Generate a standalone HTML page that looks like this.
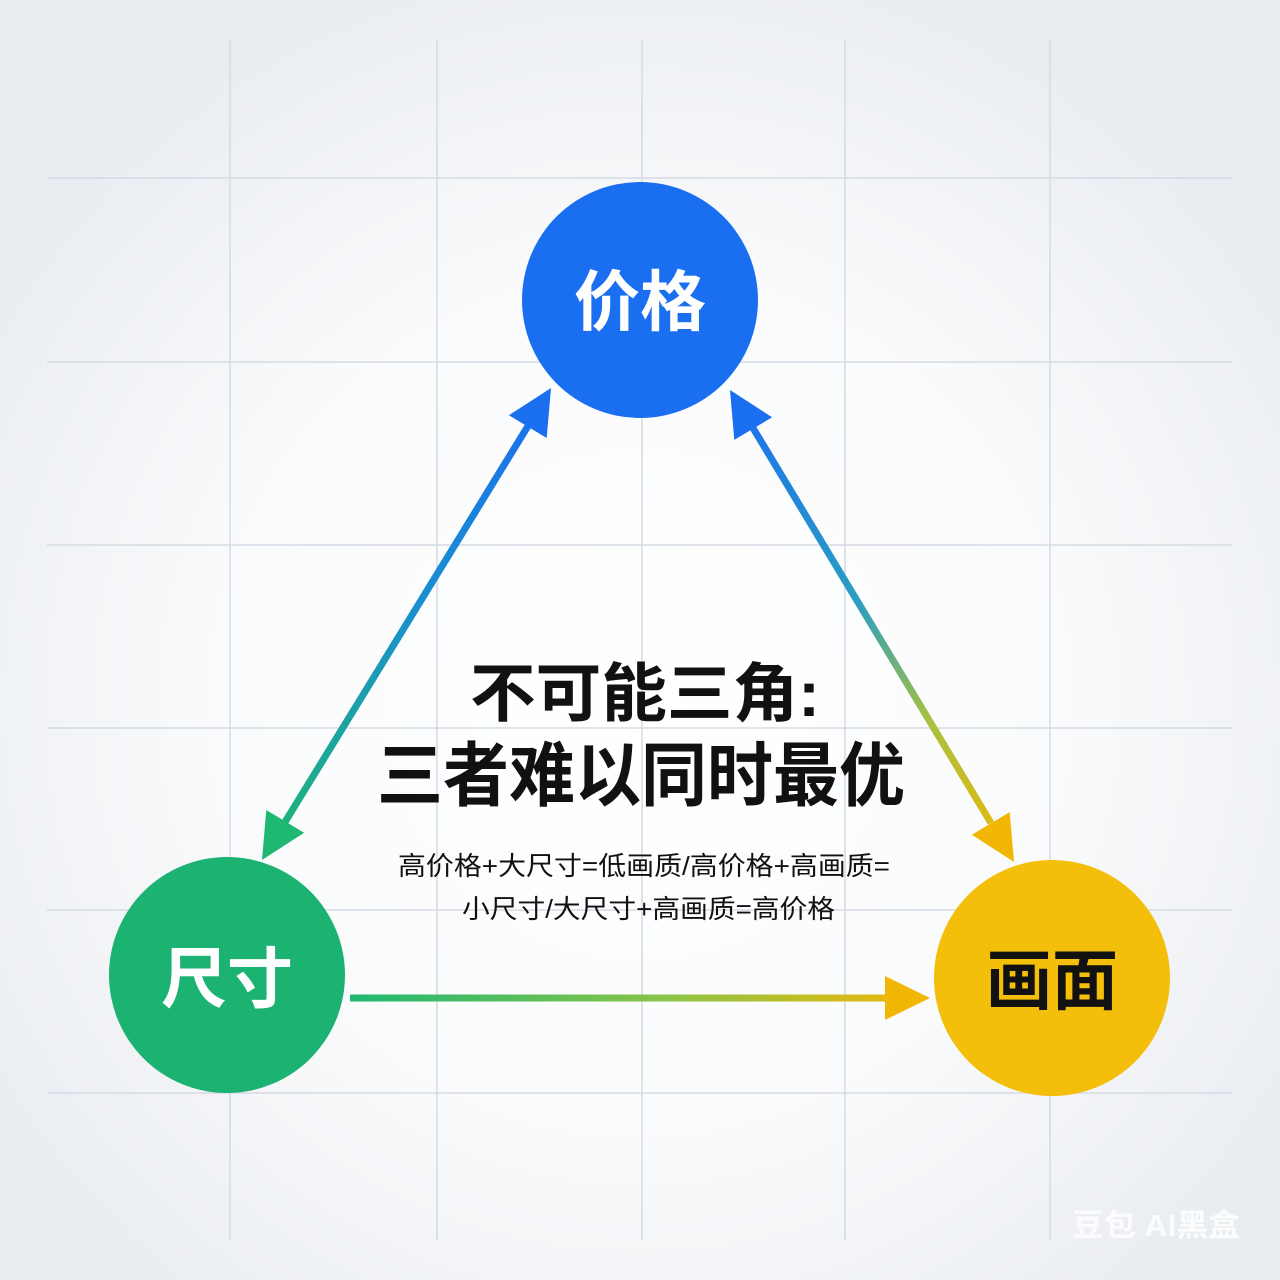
<!DOCTYPE html>
<html><head><meta charset="utf-8"><style>
html,body{margin:0;padding:0;width:1280px;height:1280px;overflow:hidden;background:#eef0f4}
svg{display:block}
text{font-family:"Liberation Sans","Noto Sans CJK SC",sans-serif}
</style></head><body>
<svg width="1280" height="1280" viewBox="0 0 1280 1280" xmlns="http://www.w3.org/2000/svg">
<defs>
<radialGradient id="bg" cx="50%" cy="55%" r="60%">
<stop offset="0" stop-color="#ffffff"/><stop offset="0.55" stop-color="#fafbfc"/><stop offset="1" stop-color="#e9ecf1"/>
</radialGradient>
<linearGradient id="gl" gradientUnits="userSpaceOnUse" x1="551" y1="388" x2="262" y2="860">
<stop offset="0" stop-color="#1a6ef0"/><stop offset="0.45" stop-color="#1a8fd0"/><stop offset="1" stop-color="#1eb872"/>
</linearGradient>
<linearGradient id="gr" gradientUnits="userSpaceOnUse" x1="730" y1="390" x2="1014" y2="862">
<stop offset="0" stop-color="#1a6ef0"/><stop offset="0.45" stop-color="#2a9fc0"/><stop offset="0.7" stop-color="#a8c040"/><stop offset="1" stop-color="#f2b705"/>
</linearGradient>
<linearGradient id="gb" gradientUnits="userSpaceOnUse" x1="350" y1="0" x2="930" y2="0">
<stop offset="0" stop-color="#1eb872"/><stop offset="0.55" stop-color="#8cc447"/><stop offset="1" stop-color="#f2b705"/>
</linearGradient>
</defs>
<rect width="1280" height="1280" fill="url(#bg)"/>
<g stroke="#d6dae3" stroke-width="1.5">
<line x1="230" y1="40" x2="230" y2="1240"/><line x1="437" y1="40" x2="437" y2="1240"/>
<line x1="642" y1="40" x2="642" y2="1240"/><line x1="845" y1="40" x2="845" y2="1240"/>
<line x1="1050" y1="40" x2="1050" y2="1240"/>
<line x1="47" y1="178" x2="1232" y2="178"/><line x1="47" y1="362" x2="1232" y2="362"/>
<line x1="47" y1="545" x2="1232" y2="545"/><line x1="47" y1="728" x2="1232" y2="728"/>
<line x1="47" y1="910" x2="1232" y2="910"/><line x1="47" y1="1093" x2="1232" y2="1093"/>
</g>
<line x1="528" y1="426" x2="285" y2="822" stroke="url(#gl)" stroke-width="7"/>
<line x1="753" y1="428" x2="991" y2="823" stroke="url(#gr)" stroke-width="7"/>
<line x1="350" y1="998" x2="888" y2="998" stroke="url(#gb)" stroke-width="7"/>
<polygon points="551,388 546.7,438 508.9,415.2" fill="#1a6ef0"/>
<polygon points="262,860 304.1,832.8 266.3,810" fill="#1eb872"/>
<polygon points="730,390 772.1,417.3 734.3,439.9" fill="#1a6ef0"/>
<polygon points="1014,862 1009.7,812.1 971.9,834.7" fill="#f2b705"/>
<polygon points="930,998 885,976 885,1020" fill="#f2b705"/>
<circle cx="640" cy="300" r="118" fill="#1a6ef0"/>
<circle cx="227" cy="975" r="118" fill="#1cb272"/>
<circle cx="1052" cy="978" r="118" fill="#f4bf0a"/>
<text x="640" y="325" font-size="66" font-weight="bold" fill="#fff" text-anchor="middle">价格</text>
<text x="227" y="1002" font-size="66" font-weight="bold" fill="#fff" text-anchor="middle">尺寸</text>
<text x="1052" y="1004" font-size="66" font-weight="bold" fill="#111" text-anchor="middle">画面</text>
<text x="470" y="716" font-size="64" font-weight="bold" fill="#111" textLength="350" lengthAdjust="spacingAndGlyphs">不可能三角:</text>
<text x="377" y="800" font-size="70" font-weight="bold" fill="#111" textLength="528" lengthAdjust="spacingAndGlyphs">三者难以同时最优</text>
<text x="398" y="875" font-size="26" fill="#111" textLength="492" lengthAdjust="spacingAndGlyphs">高价格+大尺寸=低画质/高价格+高画质=</text>
<text x="462" y="918" font-size="26" fill="#111" textLength="373" lengthAdjust="spacingAndGlyphs">小尺寸/大尺寸+高画质=高价格</text>
<text x="1072" y="1236" font-size="31" font-weight="bold" fill="#ffffff" opacity="0.85" textLength="168" lengthAdjust="spacingAndGlyphs">豆包 AI黑盒</text>
</svg>
</body></html>
